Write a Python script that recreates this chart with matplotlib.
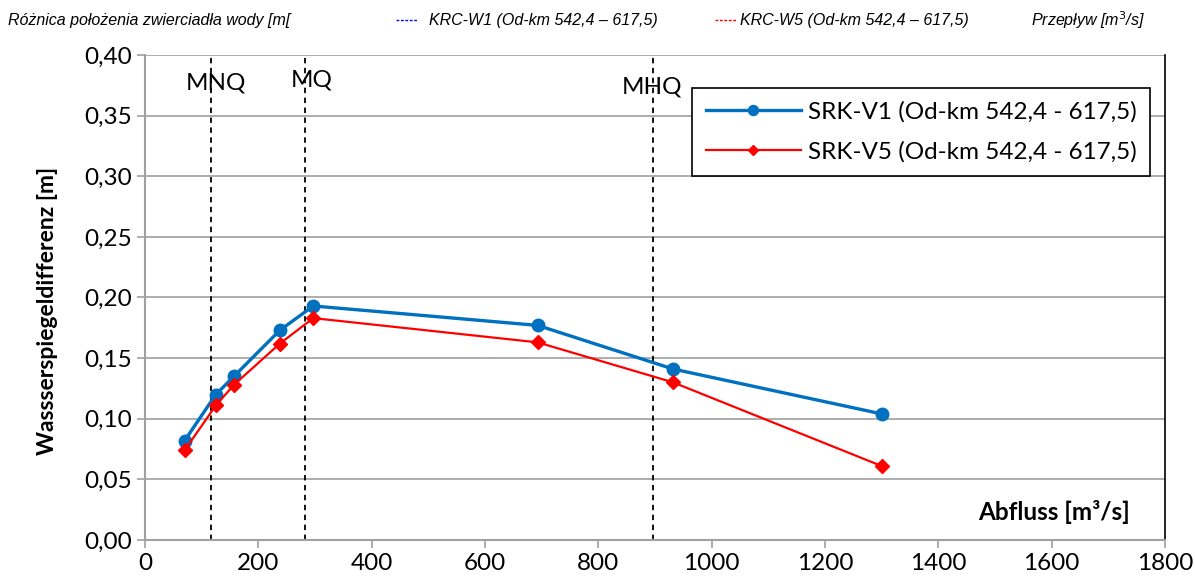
import matplotlib
matplotlib.use("Agg")
import matplotlib.pyplot as plt
from matplotlib.lines import Line2D

plt.rcParams['font.family'] = ['Lato', 'DejaVu Sans']

x_v1 = [70, 125, 157, 238, 297, 693, 932, 1300]
y_v1 = [0.082, 0.120, 0.135, 0.173, 0.193, 0.177, 0.141, 0.104]
x_v5 = [70, 125, 157, 238, 297, 693, 932, 1300]
y_v5 = [0.074, 0.111, 0.128, 0.162, 0.183, 0.163, 0.130, 0.061]
ref_q = [117, 283, 897]
ref_labels = ["MNQ", "MQ", "MHQ"]
xticks = [0, 200, 400, 600, 800, 1000, 1200, 1400, 1600, 1800]
yticks = [0.0, 0.05, 0.10, 0.15, 0.20, 0.25, 0.30, 0.35, 0.40]

FS = 17.5
fig = plt.figure(figsize=(11.95, 5.85), dpi=100)
ax = fig.add_axes([145/1195, 45/585, 1020/1195, 485/585])
ax.set_xlim(0, 1800)
ax.set_ylim(0, 0.40)
ax.set_xticks(xticks)
ax.set_xticklabels([str(t) for t in xticks])
ax.set_yticks(yticks)
ax.set_yticklabels([f"{t:.2f}".replace('.', ',') for t in yticks])
ax.tick_params(axis='both', labelsize=FS, color='#a0a0a0', length=6, width=1.2, direction='out')
ax.tick_params(axis='x', pad=3)
ax.grid(axis='y', color='#a0a0a0', linewidth=1.2)
ax.set_axisbelow(True)
ax.spines['top'].set_visible(False)
ax.spines['left'].set_color('#a0a0a0')
ax.spines['bottom'].set_color('#a0a0a0')
ax.spines['left'].set_linewidth(1.5)
ax.spines['bottom'].set_linewidth(1.5)
ax.spines['right'].set_color('black')
ax.spines['right'].set_linewidth(1.2)

for q in ref_q:
    ax.axvline(q, color='black', linestyle=(0, (3, 2.5)), linewidth=1.3, zorder=2)
label_pos = [(125, 0.377), (295, 0.379), (895, 0.374)]
for (lx, ly), lab in zip(label_pos, ref_labels):
    ax.text(lx, ly, lab, fontsize=FS, ha='center', va='center')

ax.plot(x_v1, y_v1, color='#0070c0', linewidth=2.4, marker='o', markersize=9,
        label='SRK-V1 (Od-km 542,4 - 617,5)', zorder=4)
ax.plot(x_v5, y_v5, color='#ff0000', linewidth=1.6, marker='D', markersize=7,
        label='SRK-V5 (Od-km 542,4 - 617,5)', zorder=5)

leg = ax.legend(loc='upper right', bbox_to_anchor=(1005/1020, 452/485), borderaxespad=0,
                fontsize=FS, frameon=True, fancybox=False, edgecolor='black', framealpha=1,
                borderpad=0.55, labelspacing=0.75, handlelength=3.9, handletextpad=0.3,
                markerscale=0.8)
leg.get_frame().set_linewidth(1.2)
leg.set_zorder(10)

ax.text(0.966, 0.058, 'Abfluss [m³/s]', transform=ax.transAxes, fontsize=FS,
        fontweight='bold', ha='right', va='center')
ax.set_ylabel('Wassserspiegeldifferenz [m]', fontsize=16.5, fontweight='bold')
ax.yaxis.set_label_coords(-(145 - 58) / 1020, (540 - 311) / 485)

hdr = dict(fontsize=11.5, style='italic', va='center', family=['Liberation Sans', 'DejaVu Sans'])
y0 = 1 - 20/585
fig.text(8/1195, y0, 'Różnica położenia zwierciadła wody [m[', color='black', **hdr)
fig.add_artist(Line2D([396/1195, 417/1195], [y0, y0], color='blue', linewidth=1.0,
                      linestyle=(0, (2, 1.2)), transform=fig.transFigure))
fig.text(429/1195, y0, 'KRC-W1 (Od-km 542,4 – 617,5)', color='black', **hdr)
fig.add_artist(Line2D([715/1195, 736/1195], [y0, y0], color='red', linewidth=1.0,
                      linestyle=(0, (2, 1.2)), transform=fig.transFigure))
fig.text(740/1195, y0, 'KRC-W5 (Od-km 542,4 – 617,5)', color='black', **hdr)
fig.text(1031/1195, y0, 'Przepływ [m$^3$/s]', color='black', **hdr)

fig.savefig('out.png', dpi=100)
